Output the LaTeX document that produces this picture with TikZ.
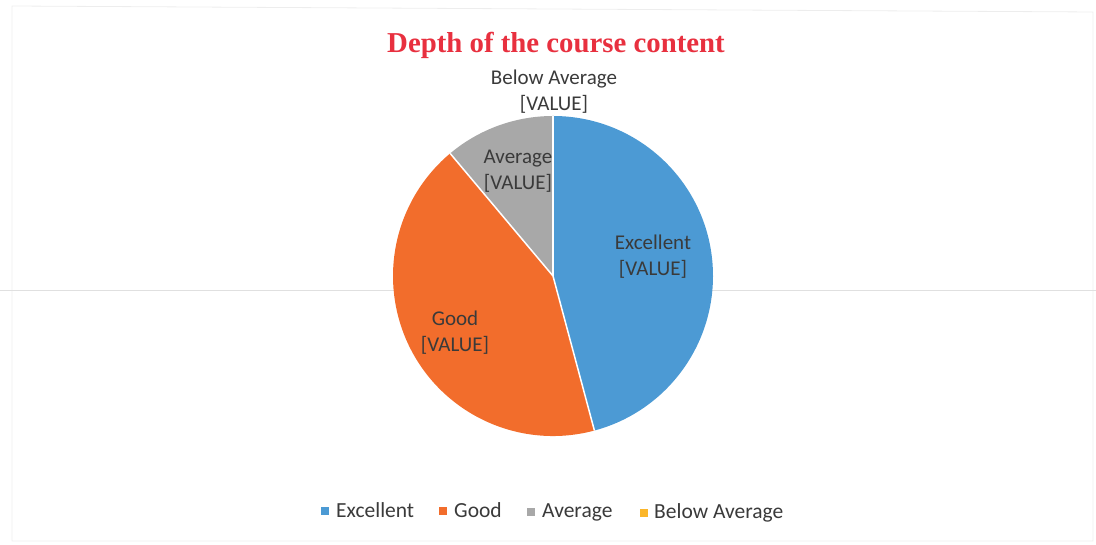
\documentclass[tikz,border=0pt]{standalone}
\usepackage{fontspec}
\setmainfont{Carlito}
\newfontfamily\titlefont{Liberation Serif}
\definecolor{cblue}{HTML}{4C9AD4}
\definecolor{corange}{HTML}{F26D2C}
\definecolor{cgray}{HTML}{A8A8A8}
\definecolor{cyellow}{HTML}{FBB62A}
\definecolor{ctext}{HTML}{3A3A3A}
\definecolor{ctitle}{HTML}{E8303F}
\tikzset{
  slice/.style={draw=white, line width=1.5pt},
  lbl/.style={align=center, text=ctext, font=\fontsize{21}{26}\selectfont, inner sep=0pt},
  legtext/.style={anchor=west, text=ctext, font=\fontsize{21.5}{24}\selectfont, inner sep=0pt},
  legsq/.style={minimum size=8pt, inner sep=0pt},
}
\begin{document}
\begin{tikzpicture}[x=1pt,y=1pt]
\useasboundingbox (0,0) rectangle (1096,545);
% faint scan frame and fold
\draw[black!7, line width=0.8pt] (12,539) -- (1093,533) -- (1093,4) -- (12,4) -- cycle;
\draw[black!12, line width=0.8pt] (0,255) -- (1096,255);
% title
\node[text=ctitle, font=\titlefont\bfseries\fontsize{28.8}{32}\selectfont, inner sep=0pt] (title) at (556,500) {Depth of the course content};
% pie
\coordinate (c) at (553,269);
\fill[cblue] (c) -- ++(90:160) arc[start angle=90, end angle=-75, radius=160] -- cycle;
\fill[corange] (c) -- ++(-75:160) arc[start angle=-75, end angle=-230, radius=160] -- cycle;
\fill[cgray] (c) -- ++(130:160) arc[start angle=130, end angle=90, radius=160] -- cycle;
\draw[slice] (c) -- ++(90:160);
\draw[slice] (c) -- ++(-75:160);
\draw[slice] (c) -- ++(130:160);
% labels
\node[lbl] (lba) at (554,453) {Below Average\\{}[VALUE]};
\node[lbl] (lav) at (518,374) {Average\\{}[VALUE]};
\node[lbl] (lex) at (653,288) {Excellent\\{}[VALUE]};
\node[lbl] (lgo) at (455,212) {Good\\{}[VALUE]};
% legend
\node[legsq, fill=cblue] (s1) at (325,34) {};
\node[legtext] (t1) at (336,35) {Excellent};
\node[legsq, fill=corange] (s2) at (443,34) {};
\node[legtext] (t2) at (454,35) {Good};
\node[legsq, fill=cgray] (s3) at (531,33) {};
\node[legtext] (t3) at (542,33) {Average};
\node[legsq, fill=cyellow] (s4) at (644,32) {};
\node[legtext] (t4) at (654,32) {Below Average};
\end{tikzpicture}
\end{document}
